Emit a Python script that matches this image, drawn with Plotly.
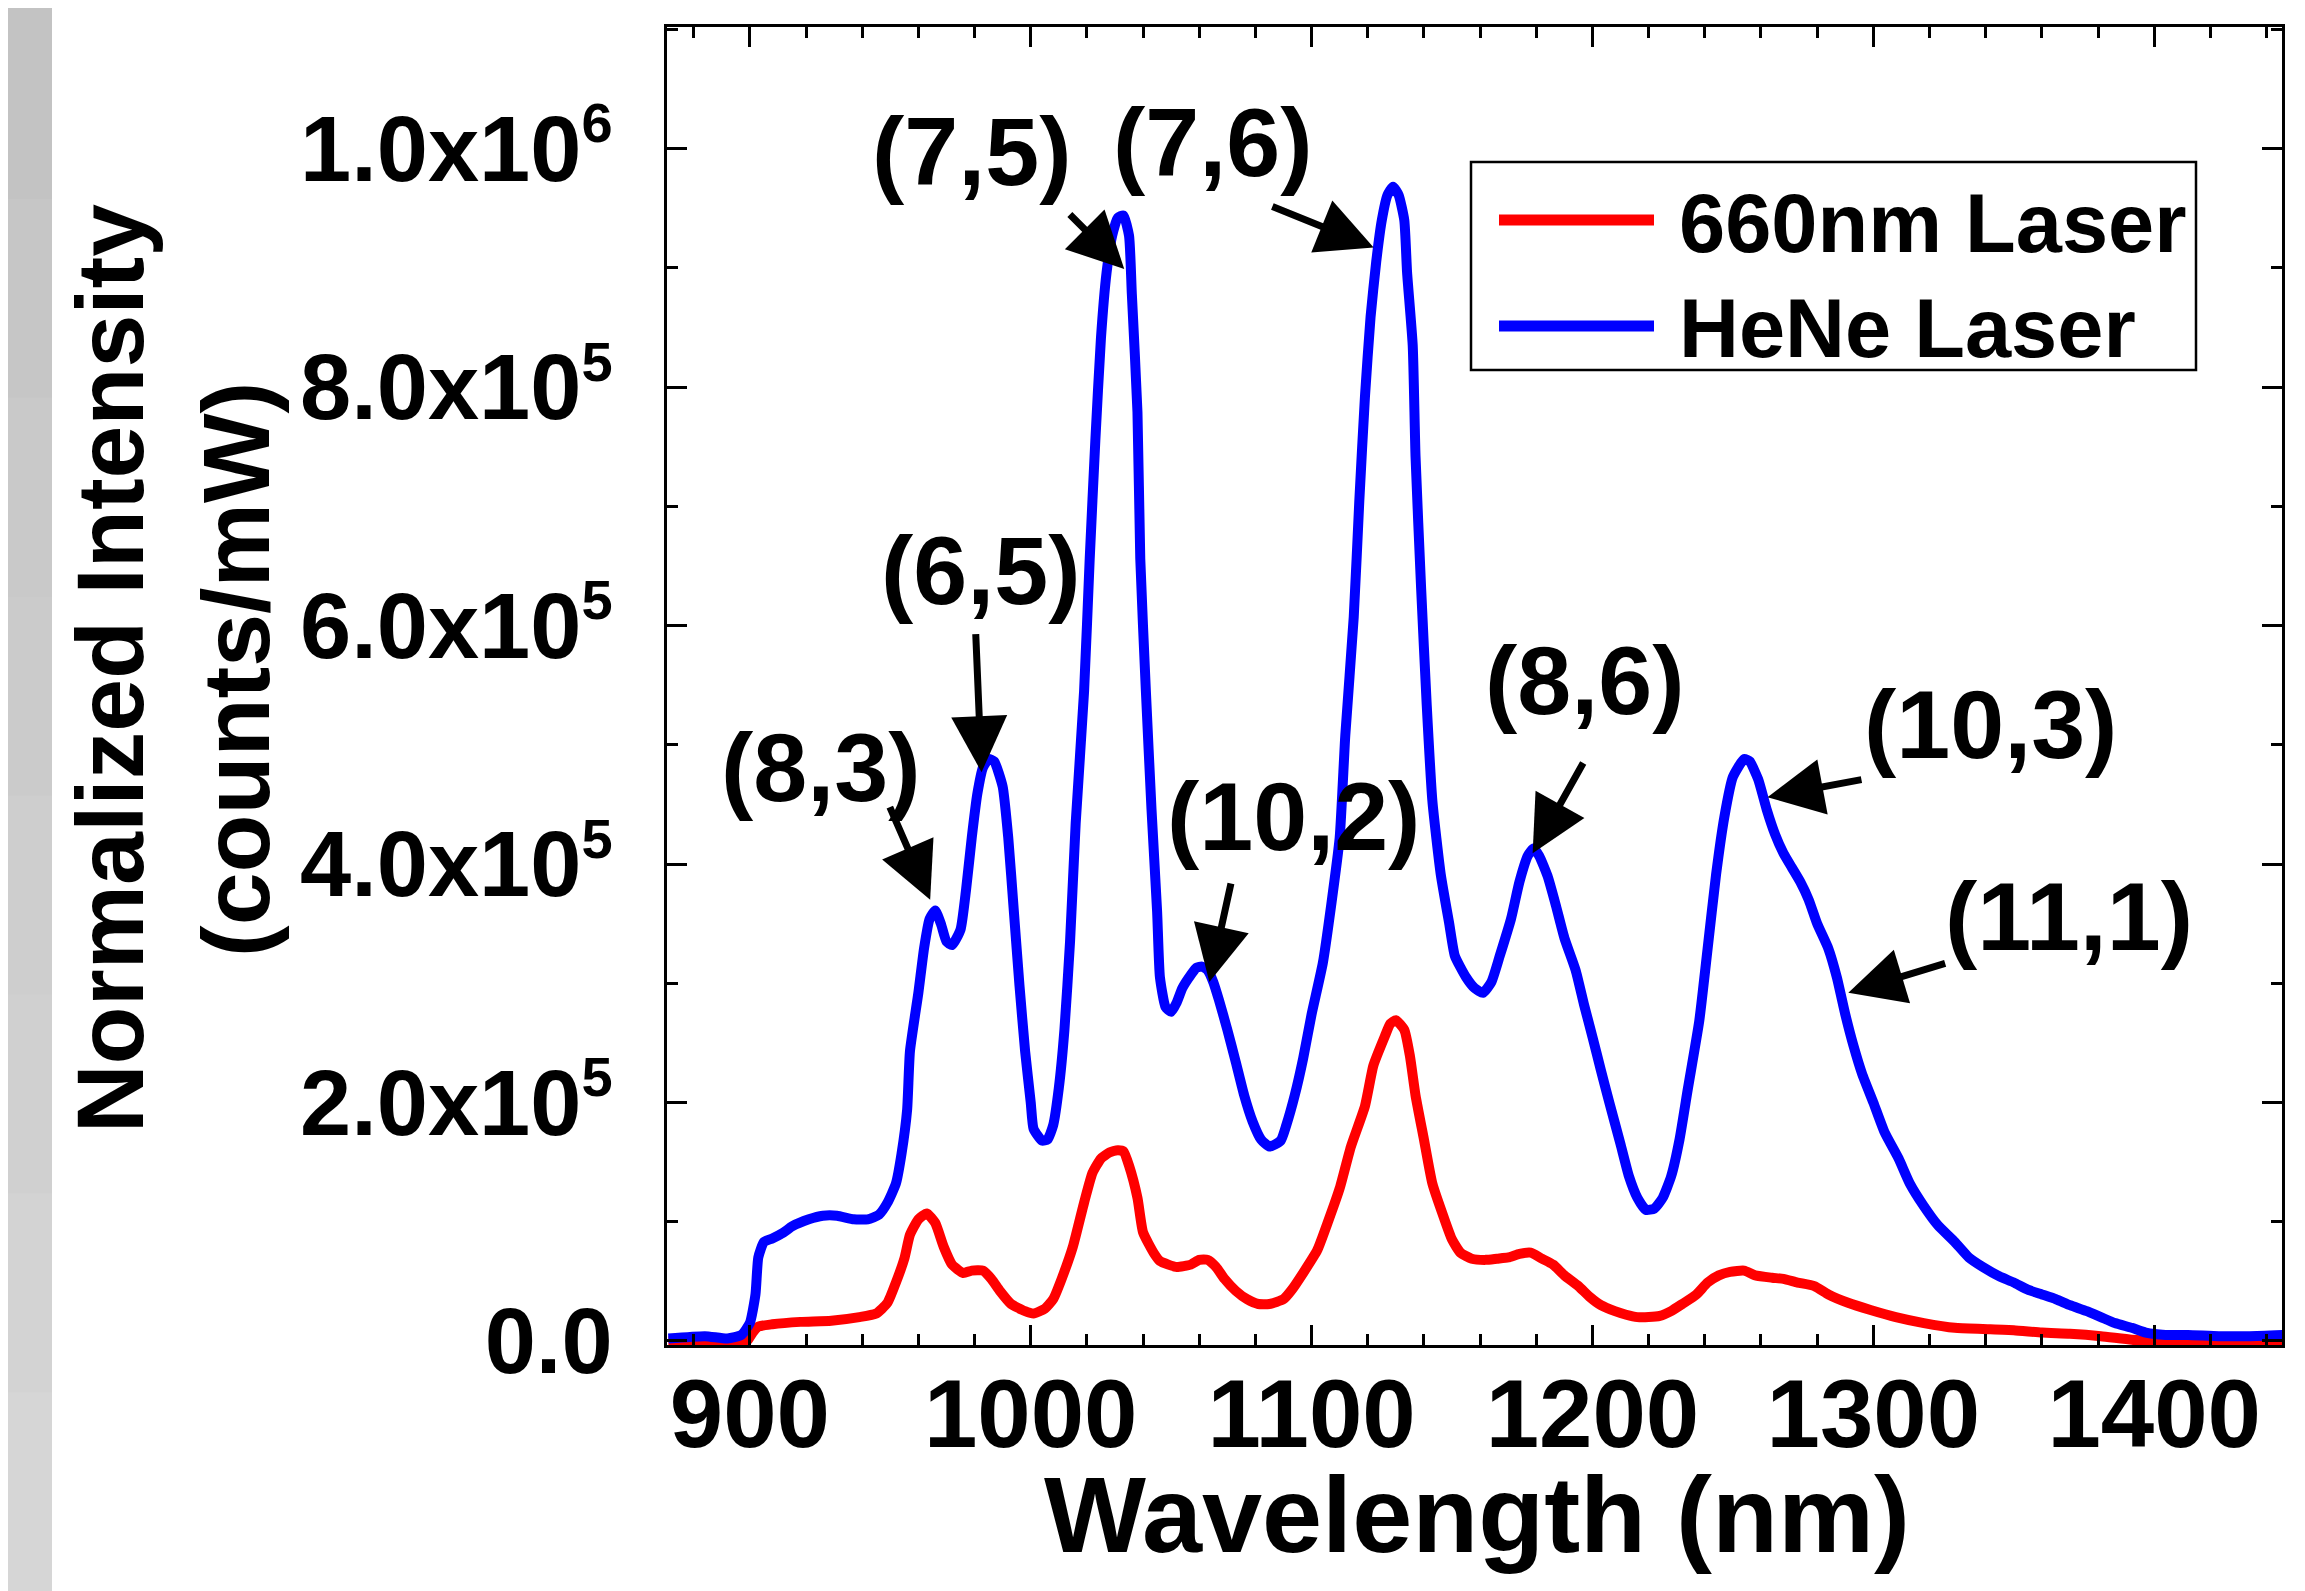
import plotly.graph_objects as go

# ---------------- data ----------------
wl_hene = [871, 884, 892, 897, 900, 902, 903, 905, 908, 912, 915, 921, 926, 931, 937, 942, 946, 949,
           952, 954, 956, 957, 960, 962, 964, 966, 968, 970, 972, 975, 977, 979, 981, 983, 985, 987,
           990, 992, 994, 996, 998, 1000, 1001, 1004, 1006, 1008, 1010, 1012, 1014, 1016, 1019, 1021,
           1023, 1025, 1027, 1029, 1031, 1033, 1035, 1036, 1038, 1039, 1041, 1043, 1045, 1046, 1048,
           1050, 1052, 1054, 1057, 1059, 1061, 1063, 1065, 1067, 1070, 1073, 1076, 1079, 1082, 1085,
           1089, 1091, 1094, 1097, 1100, 1104, 1107, 1110, 1112, 1115, 1117, 1119, 1121, 1123, 1125,
           1127, 1129, 1131, 1133, 1134, 1136, 1137, 1139, 1141, 1143, 1146, 1149, 1151, 1155, 1158,
           1161, 1164, 1167, 1171, 1174, 1177, 1179, 1181, 1184, 1187, 1190, 1194, 1197, 1200, 1203,
           1206, 1210, 1213, 1216, 1219, 1222, 1225, 1228, 1231, 1234, 1238, 1241, 1244, 1247, 1250,
           1254, 1256, 1259, 1262, 1265, 1268, 1271, 1274, 1277, 1280, 1284, 1287, 1290, 1293, 1296,
           1300, 1304, 1309, 1313, 1318, 1323, 1329, 1334, 1339, 1345, 1350, 1355, 1360, 1365, 1370,
           1376, 1381, 1386, 1392, 1397, 1404, 1412, 1423, 1434, 1446]
int_hene = [2e3, 4e3, 2e3, 5e3, 15e3, 39e3, 70e3, 83e3, 86e3, 91e3, 96e3, 102e3, 105e3, 105e3, 102e3,
            102e3, 106e3, 116e3, 132e3, 157e3, 194e3, 243e3, 292e3, 329e3, 354e3, 361e3, 350e3, 335e3,
            332e3, 345e3, 379e3, 422e3, 459e3, 481e3, 488e3, 486e3, 465e3, 422e3, 360e3, 298e3, 243e3,
            200e3, 178e3, 168e3, 169e3, 181e3, 212e3, 261e3, 335e3, 434e3, 545e3, 656e3, 755e3, 841e3,
            896e3, 927e3, 942e3, 944e3, 927e3, 878e3, 779e3, 656e3, 545e3, 446e3, 360e3, 305e3, 280e3,
            276e3, 284e3, 296e3, 307e3, 313e3, 314e3, 311e3, 301e3, 286e3, 261e3, 234e3, 206e3, 184e3,
            169e3, 163e3, 168e3, 181e3, 206e3, 237e3, 274e3, 317e3, 366e3, 422e3, 508e3, 607e3, 705e3,
            792e3, 859e3, 905e3, 940e3, 961e3, 968e3, 961e3, 940e3, 896e3, 835e3, 742e3, 631e3, 533e3,
            453e3, 391e3, 350e3, 323e3, 305e3, 296e3, 292e3, 301e3, 323e3, 354e3, 385e3, 407e3, 413e3,
            407e3, 390e3, 365e3, 338e3, 311e3, 282e3, 255e3, 227e3, 200e3, 165e3, 138e3, 120e3, 110e3,
            111e3, 120e3, 138e3, 169e3, 212e3, 268e3, 329e3, 391e3, 440e3, 473e3, 488e3, 486e3, 471e3,
            446e3, 425e3, 409e3, 397e3, 385e3, 370e3, 350e3, 329e3, 305e3, 274e3, 247e3, 224e3, 200e3,
            175e3, 153e3, 132e3, 113e3, 97e3, 83e3, 70e3, 62e3, 54e3, 49e3, 43e3, 39e3, 35e3, 30e3,
            25e3, 20e3, 15e3, 11e3, 7e3, 5e3, 5e3, 4e3, 4e3, 5e3]

wl_660 = [871, 897, 899, 901, 903, 908, 918, 929, 939, 945, 949, 952, 955, 957, 960, 963, 966, 969,
          972, 976, 979, 983, 986, 989, 993, 998, 1001, 1005, 1008, 1011, 1015, 1019, 1022, 1025, 1028,
          1031, 1033, 1035, 1038, 1040, 1044, 1046, 1049, 1052, 1057, 1060, 1063, 1066, 1069, 1073,
          1077, 1081, 1085, 1090, 1093, 1097, 1102, 1106, 1110, 1114, 1119, 1122, 1126, 1128, 1130,
          1133, 1135, 1137, 1140, 1143, 1147, 1150, 1153, 1157, 1162, 1166, 1170, 1174, 1178, 1182,
          1186, 1190, 1195, 1199, 1203, 1208, 1212, 1216, 1220, 1224, 1228, 1232, 1237, 1241, 1245,
          1249, 1254, 1258, 1264, 1268, 1273, 1279, 1284, 1291, 1299, 1308, 1318, 1329, 1339, 1350,
          1360, 1370, 1381, 1392, 1400, 1446]
int_660 = [0, 0, 0, 7e3, 12e3, 14e3, 16e3, 17e3, 20e3, 23e3, 32e3, 49e3, 69e3, 89e3, 102e3, 107e3,
           99e3, 79e3, 64e3, 57e3, 59e3, 59e3, 52e3, 42e3, 31e3, 25e3, 23e3, 27e3, 35e3, 52e3, 79e3,
           116e3, 141e3, 153e3, 158e3, 160e3, 159e3, 147e3, 120e3, 91e3, 73e3, 67e3, 64e3, 62e3, 64e3,
           68e3, 68e3, 62e3, 52e3, 42e3, 35e3, 31e3, 31e3, 35e3, 43e3, 57e3, 76e3, 101e3, 128e3, 163e3,
           197e3, 231e3, 255e3, 266e3, 269e3, 261e3, 239e3, 206e3, 169e3, 132e3, 104e3, 85e3, 74e3,
           69e3, 68e3, 69e3, 70e3, 73e3, 74e3, 69e3, 64e3, 55e3, 46e3, 37e3, 30e3, 25e3, 22e3, 20e3,
           20e3, 21e3, 25e3, 31e3, 39e3, 49e3, 55e3, 58e3, 59e3, 55e3, 53e3, 52e3, 49e3, 46e3, 39e3,
           32e3, 26e3, 20e3, 15e3, 11e3, 10e3, 9e3, 7e3, 6e3, 4e3, 1e3, 0, -3e3]

series_names = ["660nm Laser", "HeNe Laser"]
series_colors = ["#ff0000", "#0000ff"]

x_ticks = [900, 1000, 1100, 1200, 1300, 1400]
y_ticks = [0, 2e5, 4e5, 6e5, 8e5, 1e6]
SUP = "<sup><span style='font-size:56px'>{}</span></sup>"
y_tick_text = ["0.0", "2.0x10" + SUP.format(5), "4.0x10" + SUP.format(5), "6.0x10" + SUP.format(5),
               "8.0x10" + SUP.format(5), "1.0x10" + SUP.format(6)]

peak_labels = ["(8,3)", "(6,5)", "(7,5)", "(7,6)", "(10,2)", "(8,6)", "(10,3)", "(11,1)"]
label_x = [925.0, 982.0, 978.9, 1064.6, 1093.4, 1197.0, 1341.8, 1369.5]
label_y = [4.81e5, 6.46e5, 9.98e5, 1.005e6, 4.40e5, 5.54e5, 5.17e5, 3.56e5]
tail_x = [949.6, 980.4, 1013.4, 1085.5, 1071.4, 1197.0, 1296.3, 1326.1]
tail_y = [4.49e5, 5.94e5, 9.46e5, 9.52e5, 3.85e5, 4.86e5, 4.71e5, 3.17e5]
tip_x = [964.2, 982.5, 1033.3, 1122.1, 1063.6, 1178.7, 1262.3, 1291.1]
tip_y = [3.70e5, 4.77e5, 8.99e5, 9.17e5, 3.01e5, 4.09e5, 4.56e5, 2.92e5]

# ---------------- layout geometry (page pixels; the page body adds an 8 px offset) ----------------
OFF = 8
W, H = 2289, 1583
ML, MR, MT, MB = 659, 15, 19, 246
PW, PH = W - ML - MR, H - MT - MB
FONT = "Liberation Sans, Arial, Helvetica, sans-serif"


def px_x(p):
    return (p - OFF - ML) / PW


def px_y(p):
    return 1 - (p - OFF - MT) / PH


fig = go.Figure()
fig.add_trace(go.Scatter(x=wl_660, y=int_660, mode="lines", name=series_names[0],
                         line=dict(color=series_colors[0], width=10, shape="spline", smoothing=0.5),
                         showlegend=False))
fig.add_trace(go.Scatter(x=wl_hene, y=int_hene, mode="lines", name=series_names[1],
                         line=dict(color=series_colors[1], width=10, shape="spline", smoothing=0.5),
                         showlegend=False))

axis_common = dict(showline=True, linecolor="black", linewidth=3, mirror="allticks",
                   ticks="inside", tickcolor="black", tickwidth=3, showgrid=False, zeroline=False,
                   color="black")

fig.update_xaxes(range=[870.5, 1445.5], tickvals=x_ticks, ticklen=20,
                 tickfont=dict(family=FONT, size=96, color="black", weight="bold"),
                 ticklabelstandoff=-16,
                 minor=dict(dtick=20, tick0=900, ticks="inside", ticklen=11, tickwidth=3, tickcolor="black"),
                 **axis_common)
fig.update_yaxes(range=[-3400, 1.102e6], tickvals=y_ticks, ticktext=y_tick_text, ticklen=20,
                 tickfont=dict(family=FONT, size=92, color="black", weight="bold"),
                 ticklabelstandoff=33,
                 minor=dict(dtick=1e5, tick0=0, ticks="inside", ticklen=11, tickwidth=3, tickcolor="black"),
                 **axis_common)

shapes = []
# grey strip at the left edge (light vertical gradient)
greys = ["#c3c3c3", "#c6c6c6", "#c9c9c9", "#cbcbcb", "#cecece", "#d0d0d0", "#d3d3d3", "#d6d6d6"]
n = len(greys)
for i, g in enumerate(greys):
    y0p = i * 1591 / n
    y1p = (i + 1) * 1591 / n + 1
    shapes.append(dict(type="rect", xref="paper", yref="paper", x0=px_x(4), x1=px_x(52),
                       y0=px_y(y1p), y1=px_y(y0p), fillcolor=g, line=dict(width=0), layer="below"))

# manual legend
LX0, LX1, LY0, LY1 = 1471, 2196, 162, 370
shapes.append(dict(type="rect", xref="paper", yref="paper", x0=px_x(LX0), x1=px_x(LX1),
                   y0=px_y(LY1), y1=px_y(LY0), line=dict(color="black", width=2.5),
                   fillcolor="rgba(0,0,0,0)"))
leg_rows = [220, 326]
annotations = []
for name, color, ry in zip(series_names, series_colors, leg_rows):
    shapes.append(dict(type="line", xref="paper", yref="paper", x0=px_x(1499), x1=px_x(1654),
                       y0=px_y(ry), y1=px_y(ry), line=dict(color=color, width=11)))
    annotations.append(dict(text=name, xref="paper", yref="paper", x=px_x(1677), y=px_y(ry + 3),
                            xanchor="left", yanchor="middle", showarrow=False,
                            font=dict(family=FONT, size=83, color="black", weight="bold")))

# peak labels and arrows
for t, lx, ly in zip(peak_labels, label_x, label_y):
    annotations.append(dict(text=t, x=lx, y=ly, xref="x", yref="y", showarrow=False,
                            xanchor="center", yanchor="middle",
                            font=dict(family=FONT, size=97, color="black", weight="bold")))
for ax_, ay_, tx, ty in zip(tail_x, tail_y, tip_x, tip_y):
    annotations.append(dict(text="", x=tx, y=ty, xref="x", yref="y", ax=ax_, ay=ay_,
                            axref="x", ayref="y", showarrow=True, arrowhead=2, arrowsize=1.6,
                            arrowwidth=7, arrowcolor="black", standoff=0, startstandoff=0))

# axis titles
annotations.append(dict(text="Wavelength (nm)", xref="paper", yref="paper", x=px_x(1477),
                        y=px_y(1514), xanchor="center", yanchor="middle", showarrow=False,
                        font=dict(family=FONT, size=108, color="black", weight="bold")))
annotations.append(dict(text="Normalized Intensity", xref="paper", yref="paper", x=px_x(110),
                        y=px_y(669), xanchor="center", yanchor="middle", showarrow=False,
                        textangle=-90,
                        font=dict(family=FONT, size=95, color="black", weight="bold")))
annotations.append(dict(text="(counts/mW)", xref="paper", yref="paper", x=px_x(236),
                        y=px_y(670), xanchor="center", yanchor="middle", showarrow=False,
                        textangle=-90,
                        font=dict(family=FONT, size=95, color="black", weight="bold")))

fig.update_layout(width=W, height=H, margin=dict(l=ML, r=MR, t=MT, b=MB, pad=0),
                  paper_bgcolor="white", plot_bgcolor="white", showlegend=False,
                  shapes=shapes, annotations=annotations,
                  font=dict(family=FONT, color="black"))

fig.write_html("out.html")
